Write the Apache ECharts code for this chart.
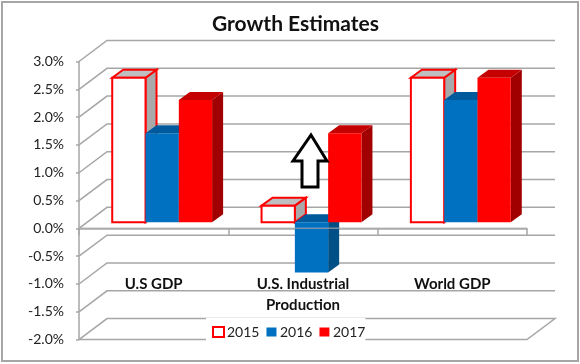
<!DOCTYPE html>
<html>
<head>
<meta charset="utf-8">
<style>
  html, body { margin: 0; padding: 0; background: #fff; }
  #chart1 { width: 580px; height: 364px; }
</style>
<script src="https://cdn.jsdelivr.net/npm/echarts@6/dist/echarts.min.js"></script>
</head>
<body>
<div id="chart1"></div>
<script>
var categories = ['U.S GDP', 'U.S. Industrial\nProduction', 'World GDP'];
var values2015 = [2.6, 0.3, 2.6];
var values2016 = [1.6, -0.9, 2.2];
var values2017 = [2.2, 1.6, 2.6];
var gridValues = [3, 2.5, 2, 1.5, 1, 0.5, 0, -0.5, -1, -1.5, -2];

var wallDx = 28, wallDy = -21;   // back wall offset
var barDx = 8.5, barDy = -6;     // bars stand a bit behind the front plane
var depthDx = 11, depthDy = -8;  // bar depth
var barW = 33.3;
var gridColor = '#a6a6a6';
var fontName = 'Lato, "Noto Sans", sans-serif';

function wallItem(params, api) {
    var cs = params.coordSys;
    var y = api.coord([0, api.value(0)])[1];
    var l = cs.x, r = cs.x + cs.width;
    var pts = [[l, y], [l + wallDx, y + wallDy], [r + wallDx, y + wallDy]];
    // the bottom of the wall closes with the floor edge
    if (api.value(0) === -2) {
        pts.push([r, y]);
        pts.push([l, y]);
    }
    return {
        type: 'polyline',
        shape: { points: pts },
        style: { stroke: gridColor, lineWidth: 1.5, fill: null }
    };
}

// zero line shows faintly through the negative bar
function zeroLineItem(params, api) {
    var cs = params.coordSys;
    var y = api.coord([0, api.value(0)])[1];
    return {
        type: 'line',
        shape: { x1: cs.x, y1: y, x2: cs.x + cs.width, y2: y },
        style: { stroke: gridColor, lineWidth: 1.5, opacity: 0.7 }
    };
}

function barRenderer(offset, front, top, side, stroke) {
    return function (params, api) {
        var idx = api.value(0);
        var p0 = api.coord([idx, 0]);
        var p1 = api.coord([idx, api.value(1)]);
        var x0 = p0[0] + barDx + offset * barW - barW / 2;
        var x1 = x0 + barW;
        var yBase = p0[1] + barDy;
        var yVal = p1[1] + barDy;
        var yTop = Math.min(yBase, yVal);
        var yBot = Math.max(yBase, yVal);
        var lw = stroke ? 2 : 0;
        var st = function (fill) {
            return { fill: fill, stroke: stroke || null, lineWidth: lw, lineJoin: 'miter' };
        };
        return {
            type: 'group',
            children: [{
                type: 'polygon',
                shape: { points: [[x1, yTop], [x1 + depthDx, yTop + depthDy], [x1 + depthDx, yBot + depthDy], [x1, yBot]] },
                style: st(side)
            }, {
                type: 'polygon',
                shape: { points: [[x0, yTop], [x0 + depthDx, yTop + depthDy], [x1 + depthDx, yTop + depthDy], [x1, yTop]] },
                style: st(top)
            }, {
                type: 'rect',
                shape: { x: x0, y: yTop, width: barW, height: yBot - yTop },
                style: st(front)
            }]
        };
    };
}

function barData(values) {
    return values.map(function (v, i) { return [i, v]; });
}

var chart = echarts.init(document.getElementById('chart1'), null, { renderer: 'canvas' });

chart.setOption({
    animation: false,
    backgroundColor: '#fff',
    textStyle: { fontFamily: fontName },
    title: {
        text: 'Growth Estimates',
        left: 290.5,
        top: 9,
        textAlign: 'center',
        textStyle: { fontFamily: fontName, fontSize: 21, fontWeight: 'bold', color: '#111' }
    },
    legend: {
        data: [
            { name: '2015', itemStyle: { color: '#fff', borderColor: '#ff0000', borderWidth: 2 } },
            { name: '2016', itemStyle: { color: '#0070c0', borderColor: '#fff', borderWidth: 1 } },
            { name: '2017', itemStyle: { color: '#ff0000', borderColor: '#fff', borderWidth: 1 } }
        ],
        left: 206,
        top: 318,
        padding: [7, 0, 6, 6],
        itemWidth: 11,
        itemHeight: 10,
        itemGap: 6,
        backgroundColor: '#fff',
        icon: 'rect',
        textStyle: { fontFamily: fontName, fontSize: 14, color: '#222', padding: [0, 0, 0, -2] }
    },
    grid: { left: 79, right: 53, top: 61.5, bottom: 24.4, outerBoundsMode: 'none' },
    xAxis: {
        type: 'category',
        data: categories,
        axisLine: { onZero: true, lineStyle: { color: gridColor, width: 1.5 } },
        axisTick: { show: true, inside: false, length: 7, lineStyle: { color: gridColor, width: 1.5 } },
        axisLabel: {
            interval: 0,
            inside: true,
            margin: 66,
            verticalAlign: 'top',
            fontFamily: fontName,
            fontSize: 15,
            fontWeight: 'bold',
            color: '#111',
            lineHeight: 21
        }
    },
    yAxis: {
        type: 'value',
        min: -2,
        max: 3,
        interval: 0.5,
        splitLine: { show: false },
        axisLine: { show: true, lineStyle: { color: gridColor, width: 1.5 } },
        axisTick: { show: true, length: 3, lineStyle: { color: gridColor, width: 1.5 } },
        axisLabel: {
            margin: 15,
            fontFamily: fontName,
            fontSize: 14,
            color: '#222',
            formatter: function (v) { return v.toFixed(1) + '%'; }
        }
    },
    series: [{
        type: 'custom',
        name: 'wall',
        silent: true,
        z: 1,
        renderItem: wallItem,
        data: gridValues.map(function (v) { return [v]; }),
        encode: { y: 0 }
    }, {
        type: 'custom',
        name: '2015',
        z: 2,
        renderItem: barRenderer(-1, '#ffffff', '#bfbfbf', '#a9a9a9', '#ff0000'),
        data: barData(values2015),
        encode: { x: 0, y: 1 }
    }, {
        type: 'custom',
        name: '2016',
        z: 2,
        renderItem: barRenderer(0, '#0070c0', '#005a9c', '#004f86', null),
        data: barData(values2016),
        encode: { x: 0, y: 1 }
    }, {
        type: 'custom',
        name: '2017',
        z: 2,
        renderItem: barRenderer(1, '#ff0000', '#c40000', '#a00000', null),
        data: barData(values2017),
        encode: { x: 0, y: 1 }
    }, {
        type: 'custom',
        name: 'zero',
        silent: true,
        z: 3,
        renderItem: zeroLineItem,
        data: [[0]],
        encode: { y: 0 }
    }],
    graphic: [{
        // outer frame
        type: 'rect',
        z: 0,
        shape: { x: 2, y: 2, width: 576, height: 359 },
        style: { fill: null, stroke: '#a6a6a6', lineWidth: 2 }
    }, {
        // the up arrow pasted on the chart
        type: 'polygon',
        z: 10,
        shape: { points: [[311, 135], [327, 161], [318, 161], [318, 187], [302, 187], [302, 161], [293, 161]] },
        style: { fill: '#fff', stroke: '#000', lineWidth: 3 }
    }]
});
</script>
</body>
</html>
